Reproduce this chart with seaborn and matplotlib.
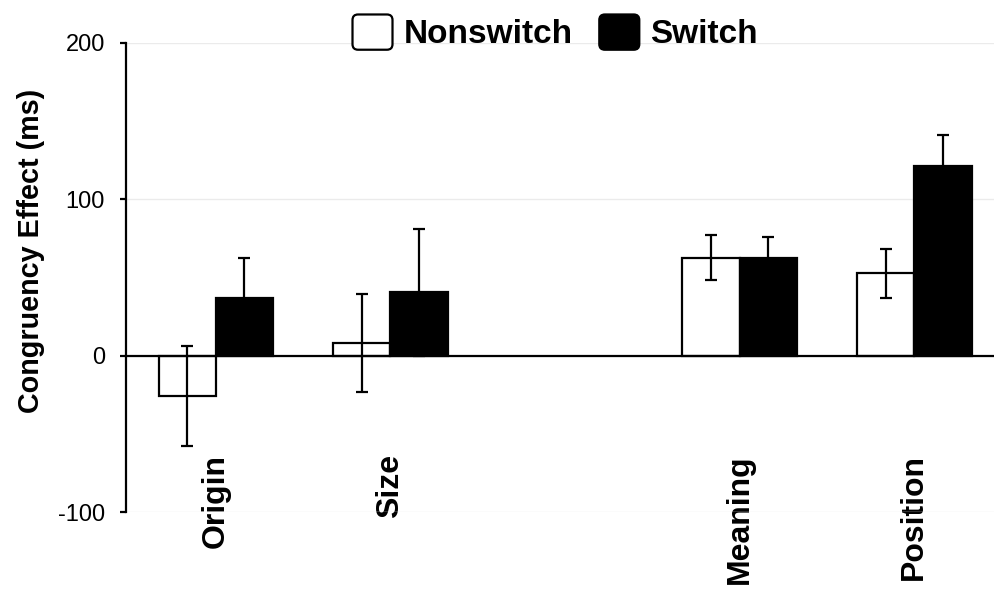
import matplotlib
matplotlib.use("Agg")
import matplotlib.pyplot as plt
import seaborn as sns
import pandas as pd
from matplotlib.patches import FancyBboxPatch
from matplotlib.legend_handler import HandlerPatch

# ---- data ----
categories = ["Origin", "Size", "Meaning", "Position"]
slot_order = ["Origin", "Size", "", "Meaning", "Position"]
conditions = ["Nonswitch", "Switch"]
nonswitch_vals = [-26, 8, 62.5, 52.5]
nonswitch_err = [32, 31, 14.5, 15.5]
switch_vals = [36.5, 40.5, 62, 121]
switch_err = [25.5, 40.5, 13.5, 20]
y_ticks = [-100, 0, 100, 200]

df = pd.DataFrame({
    "cat": categories * 2,
    "cond": ["Nonswitch"] * 4 + ["Switch"] * 4,
    "val": nonswitch_vals + switch_vals,
    "err": nonswitch_err + switch_err,
})

sns.set_theme(style="white", rc={"text.color": "black", "axes.labelcolor": "black",
                                 "xtick.color": "black", "ytick.color": "black"})
plt.rcParams["font.family"] = ["Liberation Sans", "DejaVu Sans"]
plt.rcParams["axes.unicode_minus"] = False

fig = plt.figure(figsize=(9.95, 5.89), dpi=100)
ax = fig.add_axes([0.1271, 0.1307, 0.8729, 0.7971])

sns.barplot(data=df, x="cat", y="val", hue="cond", order=slot_order,
            hue_order=conditions, palette={"Nonswitch": "white", "Switch": "black"},
            edgecolor="black", linewidth=1.6, width=0.655, errorbar=None,
            ax=ax, zorder=2)

# error bars at bar centres
for p in ax.patches:
    h = p.get_height()
    if p.get_width() == 0:
        continue
    xc = p.get_x() + p.get_width() / 2
    fc = p.get_facecolor()
    cond = "Switch" if fc[0] < 0.5 else "Nonswitch"
    row = df[(df["cond"] == cond) & ((df["val"] - h).abs() < 1e-6)]
    if len(row) == 0:
        continue
    ax.errorbar(xc, h, yerr=row["err"].iloc[0], fmt="none", ecolor="black",
                elinewidth=1.6, capsize=4.5, capthick=1.6, zorder=3)

handles, labels = ax.get_legend_handles_labels()
if ax.get_legend() is not None:
    ax.get_legend().remove()


class RoundHandler(HandlerPatch):
    def create_artists(self, legend, orig_handle, xdescent, ydescent,
                       width, height, fontsize, trans):
        p = FancyBboxPatch((-xdescent, -ydescent), width, height,
                           boxstyle="round,pad=0,rounding_size=4",
                           facecolor=orig_handle.get_facecolor(),
                           edgecolor="black", lw=1.6, transform=trans)
        return [p]


fig.legend(handles, labels, loc="center", bbox_to_anchor=(0.558, 0.945),
           ncol=2, frameon=False, prop={"weight": "bold", "size": 24},
           handlelength=1.2, handleheight=1.25, handletextpad=0.33,
           columnspacing=0.8, borderpad=0,
           handler_map={h: RoundHandler() for h in handles})

# spine placement first (it resets ticks)
ax.spines["bottom"].set_position(("data", 0))
ax.spines["top"].set_visible(False)
ax.spines["right"].set_visible(False)
for s in ("bottom", "left"):
    ax.spines[s].set_linewidth(1.6)
    ax.spines[s].set_color("black")
    ax.spines[s].set_zorder(4)

ax.set_xlim(-0.511, 4.462)
ax.set_ylim(-100, 200)
ax.set_yticks(y_ticks)
ax.set_yticklabels([str(t) for t in y_ticks], fontsize=17)
ax.set_ylabel("Congruency Effect (ms)", fontsize=20.7, fontweight="bold", labelpad=9)
ax.yaxis.label.set_y(0.556)
ax.set_xlabel("")
ax.set_xticks(range(len(slot_order)))
ax.set_xticklabels(slot_order, rotation=90, fontsize=23, fontweight="bold")

ax.tick_params(axis="x", length=0, pad=71)
ax.tick_params(axis="y", left=True, length=4.5, width=1.6, color="black", pad=11)
ax.yaxis.grid(True, color="#ebebeb", linewidth=1)
ax.set_axisbelow(True)

fig.savefig("out.png", dpi=100)
